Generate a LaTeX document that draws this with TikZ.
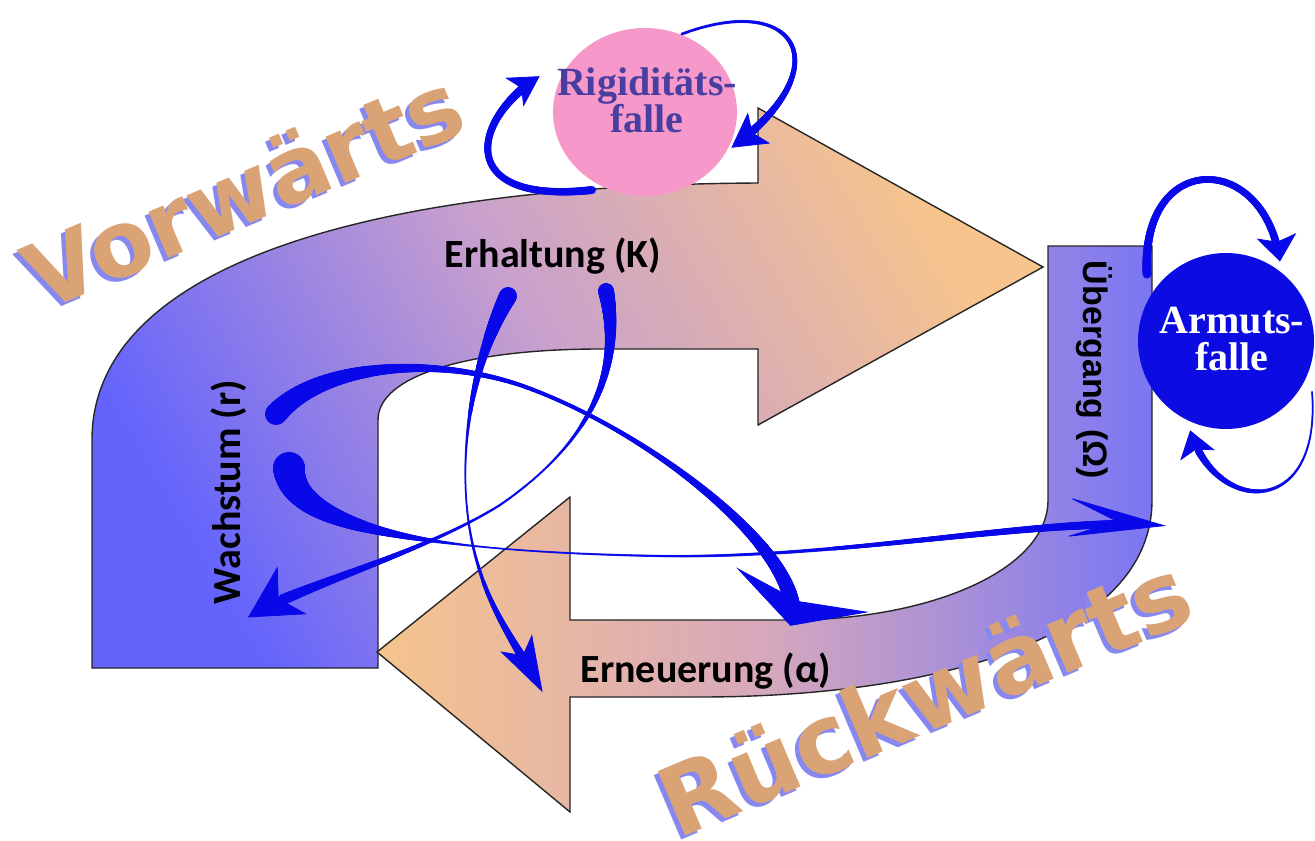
\documentclass[tikz,border=0pt]{standalone}
\usepackage{fontspec}
\setmainfont{Liberation Serif}
\newfontfamily\phasefont{Carlito}
\newfontfamily\omegafont{Liberation Sans}
\newfontfamily\artfont{DejaVu Sans}
\usepackage{tikz}
\usetikzlibrary{arrows.meta,decorations.markings,shapes.geometric}

\definecolor{flowblue}{RGB}{8,8,232}
\definecolor{cycblue}{RGB}{100,100,252}
\definecolor{cycmid}{RGB}{200,160,205}
\definecolor{cycorange}{RGB}{246,196,140}
\definecolor{retblue}{RGB}{122,118,244}
\definecolor{retmid}{RGB}{214,168,188}
\definecolor{trappink}{RGB}{246,152,202}
\definecolor{traptext}{RGB}{72,62,160}
\definecolor{trapblue}{RGB}{12,12,226}
\definecolor{artorange}{RGB}{218,163,118}
\definecolor{artshadow}{RGB}{135,135,240}

\begin{document}
\begin{tikzpicture}[
  x=0.5pt, y=-0.5pt,
  bigarrow/.style={draw=black!85, line width=0.7pt},
  flow/.style={color=flowblue},
  taper/.style n args={5}{postaction={decorate, decoration={markings,
    mark=between positions 0 and #5 step 0.4pt with {%
      \pgfmathsetmacro\tlen{\pgfdecoratedpathlength}%
      \pgfmathsetmacro\tpos{(\pgfkeysvalueof{/pgf/decoration/mark info/sequence number}-1)*0.4/\tlen}%
      \pgfmathsetmacro\trad{\tpos<#3 ? (#2+(#1-#2)*((#3-\tpos)/#3)^2)/2 : (#2+(#4-#2)*((\tpos-#3)/(1-#3))^2)/2}%
      \fill[flowblue] (0,0) circle[radius=\trad pt];}}}},
  head/.style={postaction={decorate, decoration={markings,
    mark=at position 0.998 with {\arrow[flowblue]{#1}}}}},
  phase/.style={font=\phasefont\bfseries\fontsize{20}{24}\selectfont, anchor=base, inner sep=0pt},
  trap/.style={font=\bfseries\fontsize{20}{18.5}\selectfont, align=center, inner sep=0pt},
  wordart/.style={font=\artfont\bfseries\fontsize{#1}{52}\selectfont, inner sep=0pt},
]
\useasboundingbox (0,0) rectangle (1315,840);

\path[bigarrow, top color=cycorange, bottom color=cycblue, middle color=cycmid, shading angle=-60]
  (92,668) -- (92,440) .. controls (92,265) and (370,185) .. (758,183) -- (758,108) -- (1043,267)
  -- (758,425) -- (758,349) -- (600,349) .. controls (470,349) and (378,375) .. (378,420) -- (378,668) -- cycle;
\path[bigarrow, left color=cycorange, right color=retblue, middle color=retmid]
  (377,652) -- (570,497) -- (570,620) -- (790,620) .. controls (930,620) and (1048,570) .. (1048,500)
  -- (1048,246) -- (1152,246) -- (1152,500) .. controls (1152,640) and (930,697) .. (700,697)
  -- (570,697) -- (570,812) -- cycle;

\node[ellipse, fill=trappink, minimum width=92pt, minimum height=84pt, inner sep=0pt] (rigtrap) at (645,112) {};
\node[circle, fill=trapblue, minimum size=88pt, inner sep=0pt] (armtrap) at (1226,341) {};

\coordinate (r1s) at (592,190);
\coordinate (r1t) at (540,76);
\coordinate (r2s) at (682,34);
\coordinate (r2t) at (731,148);
\coordinate (a1s) at (1147,274);
\coordinate (a1t) at (1280,262);
\coordinate (a2s) at (1312,392);
\coordinate (a2t) at (1190,430);

\path[flow, taper={4}{3.5}{0.5}{5}{0.9}, head={Stealth[length=15pt, width=17pt, inset=4pt]}]
  (r1s) .. controls (455,205) and (470,120) .. (r1t);
\path[flow, taper={1.5}{1.5}{0.05}{5}{0.9}, head={Stealth[length=17pt, width=19pt, inset=4pt]}]
  (r2s) .. controls (800,-10) and (840,70) .. (r2t);
\path[flow, taper={4.5}{3.5}{0.5}{4}{0.92}, head={Stealth[length=13pt, width=20pt, inset=3pt]}]
  (a1s) .. controls (1140,150) and (1265,150) .. (a1t);
\path[flow, taper={1}{1}{0.05}{4.5}{0.9}, head={Stealth[length=13pt, width=18pt, inset=3pt]}]
  (a2s) .. controls (1322,520) and (1215,515) .. (a2t);

\coordinate (ka) at (508,296);
\coordinate (kb) at (606,291);
\coordinate (rc) at (276,414);
\coordinate (rd) at (289,468);
\coordinate (atip) at (543,693);
\coordinate (rtip) at (247,618);
\coordinate (ctip) at (790,627);
\coordinate (otip) at (1168,526);

\path[flow, taper={9}{1}{0.45}{6}{0.9}, head={Stealth[length=28pt, width=18pt, inset=7pt]}]
  (ka) .. controls (468,370) and (452,480) .. (478,565) .. controls (492,615) and (520,650) .. (atip);
\path[flow, taper={8}{1.2}{0.4}{7}{0.92}, head={Stealth[length=26pt, width=28pt, inset=8pt]}]
  (kb) .. controls (625,380) and (580,450) .. (500,505) .. controls (420,555) and (300,585) .. (rtip);
\path[flow, taper={11}{2}{0.45}{9}{0.96}, head={Stealth[length=19pt, width=70pt, inset=6pt]}]
  (rc) .. controls (320,365) and (430,355) .. (520,385) .. controls (650,430) and (815,560) .. (ctip);
\path[flow, taper={16}{1}{0.25}{5}{0.93}, head={Stealth[length=50pt, width=20pt, inset=25pt]}]
  (rd) .. controls (292,530) and (440,552) .. (660,556) .. controls (850,559) and (1050,515) .. (otip);

\node[phase] (erh) at (553,267) {Erhaltung (K)};
\node[phase] (ern) at (706,682) {Erneuerung (α)};
\node[phase, rotate=90] (wach) at (240,492) {Wachstum (r)};
\node[font=\omegafont\bfseries\fontsize{17}{20}\selectfont, anchor=base, inner sep=0pt, rotate=-90] (ueb) at (1083,370) {Übergang (Ω)};

\node[trap, text=traptext] (rigtext) at (647,100) {Rigiditäts-\\falle};
\node[trap, text=white] (armtext) at (1232,339) {Armuts-\\falle};

\node[wordart=46, text=artshadow, rotate=23] (vorshadow) at (239,193) {Vorwärts};
\node[wordart=46, text=artorange, rotate=23] (vor) at (243,189) {Vorwärts};
\node[wordart=48, text=artshadow, rotate=23] (rueckshadow) at (920,699) {Rückwärts};
\node[wordart=48, text=artorange, rotate=23] (rueck) at (924,695) {Rückwärts};
\end{tikzpicture}
\end{document}
